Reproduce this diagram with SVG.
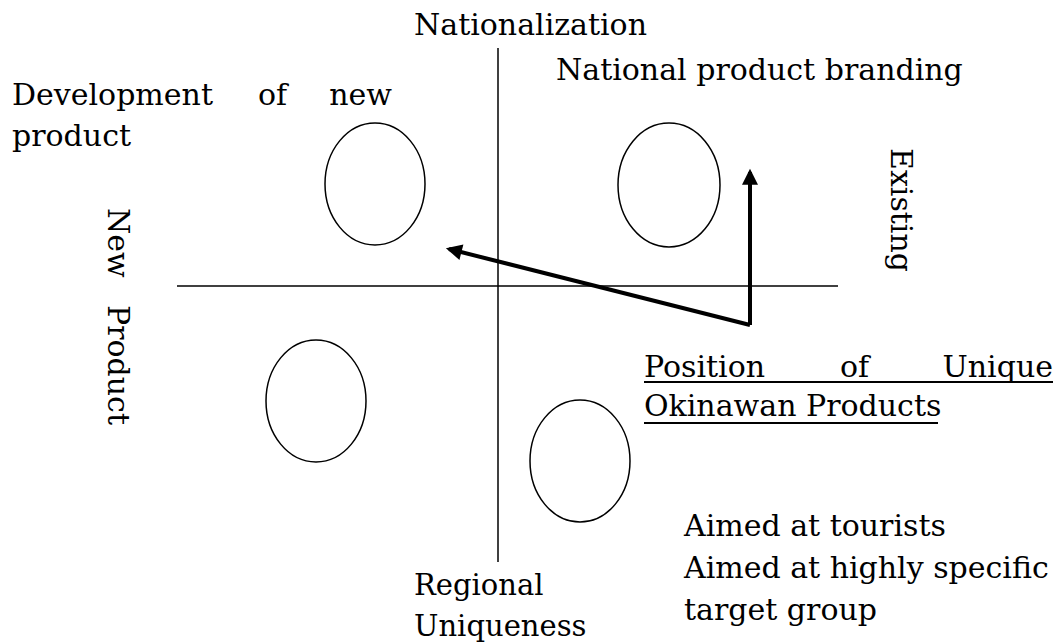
<svg xmlns="http://www.w3.org/2000/svg" width="1060" height="644" viewBox="0 0 1060 644">
<style>
text{font-family:"DejaVu Serif","Liberation Serif",serif;font-size:30px;fill:#000}
.ax{stroke:#000;stroke-width:1.5;fill:none}
.el{stroke:#000;stroke-width:1.5;fill:none}
.ar{stroke:#000;stroke-width:4;fill:none}
.ul{stroke:#000;stroke-width:2}
</style>
<defs>
<marker id="ah" viewBox="0 0 10 10" refX="8" refY="5" markerWidth="4.4" markerHeight="4" orient="auto" markerUnits="strokeWidth">
<path d="M0,0 L10,5 L0,10 z" fill="#000"/>
</marker>
</defs>
<rect width="1060" height="644" fill="#fff"/>
<g id="axes">
<line class="ax" x1="498" y1="48" x2="498" y2="562"/>
<line class="ax" x1="177" y1="286" x2="838" y2="286"/>
</g>
<g id="ellipse-tl"><ellipse class="el" cx="375" cy="184" rx="50" ry="61"/></g>
<g id="ellipse-tr"><ellipse class="el" cx="669" cy="185" rx="51" ry="62"/></g>
<g id="ellipse-bl"><ellipse class="el" cx="316" cy="401" rx="50" ry="61"/></g>
<g id="ellipse-br"><ellipse class="el" cx="580" cy="461" rx="50" ry="61"/></g>
<g id="connectors">
<line class="ar" x1="750" y1="325" x2="750" y2="172" marker-end="url(#ah)"/>
<line class="ar" x1="750" y1="325" x2="449" y2="249" marker-end="url(#ah)"/>
</g>
<g id="labels">
<text x="414" y="35">Nationalization</text>
<text x="556" y="80">National product branding</text>
<text x="12" y="105">Development</text>
<text x="258" y="105">of</text>
<text x="392" y="105" text-anchor="end">new</text>
<text x="12" y="146">product</text>
<text transform="translate(108,208) rotate(90)">New</text>
<text transform="translate(108,305) rotate(90)">Product</text>
<text transform="translate(891,148) rotate(90)">Existing</text>
<text x="644" y="377">Position</text>
<text x="840" y="377">of</text>
<text x="1053" y="377" text-anchor="end">Unique</text>
<line class="ul" x1="644" y1="382" x2="1053" y2="382"/>
<text x="644" y="416">Okinawan Products</text>
<line class="ul" x1="644" y1="423" x2="938" y2="423"/>
<text x="684" y="536">Aimed at tourists</text>
<text x="684" y="578">Aimed at highly specific</text>
<text x="684" y="620">target group</text>
<text x="414" y="595" style="font-size:29px">Regional</text>
<text x="414" y="636" style="font-size:29px">Uniqueness</text>
</g>
</svg>
